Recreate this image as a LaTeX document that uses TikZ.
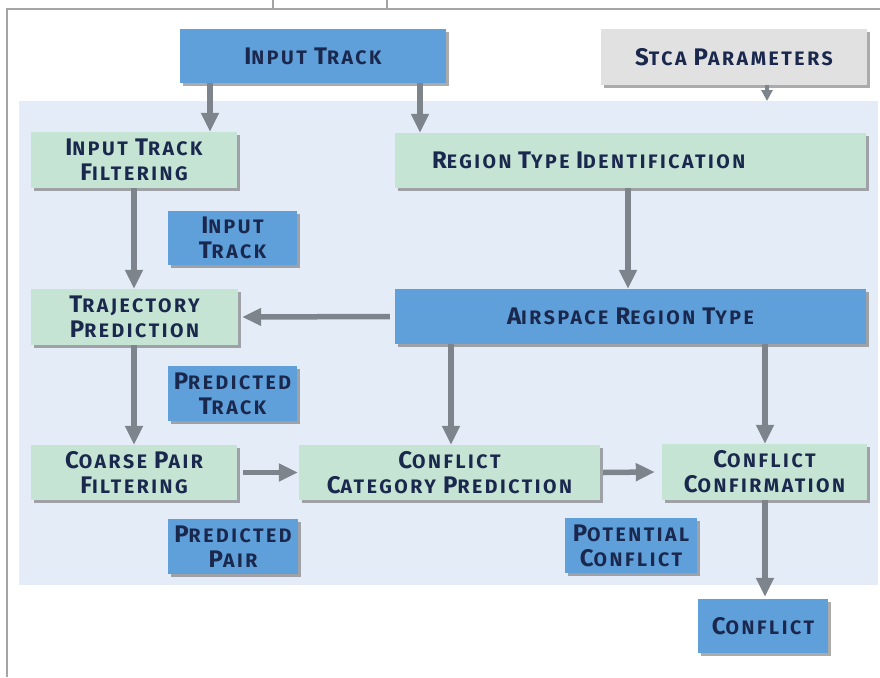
\documentclass[tikz,border=0pt]{standalone}
\usepackage{fontspec}
\setmainfont{Fira Sans}[LetterSpace=13]
\usetikzlibrary{arrows.meta,shadows,calc}
\definecolor{bgblue}{RGB}{228,237,247}
\definecolor{boxblue}{RGB}{96,160,218}
\definecolor{boxgreen}{RGB}{197,228,211}
\definecolor{boxgray}{RGB}{225,225,225}
\definecolor{txt}{RGB}{27,40,78}
\definecolor{arrgray}{RGB}{125,132,140}
\definecolor{framegray}{RGB}{165,165,165}
\newcommand\B[1]{{\fontsize{24}{25}\selectfont #1}}
\tikzset{
  box/.style={rectangle, draw=none, inner sep=0pt, align=center, text=txt,
    font=\bfseries\fontsize{19.5}{25}\selectfont,
    drop shadow={shadow xshift=2.5pt, shadow yshift=-3pt, fill=black!60, opacity=.55}},
  bluebox/.style={box, fill=boxblue},
  greenbox/.style={box, fill=boxgreen},
  graybox/.style={box, fill=boxgray},
  arr/.style={draw=arrgray, line width=5.5pt, -{Triangle[length=19pt,width=17pt]}},
  arrsmall/.style={draw=arrgray, line width=3.5pt, -{Triangle[length=11pt,width=11pt]}},
  framel/.style={draw=framegray, line width=1.8pt}
}
\begin{document}
\begin{tikzpicture}[x=1pt,y=-1pt]
\useasboundingbox (0,0) rectangle (880,677);
% frame
\draw[framel] (7,677) -- (7,9) -- (880,9);
\draw[framel] (273,0) -- (273,9);
\draw[framel] (387,0) -- (387,9);
% background
\node[fill=bgblue, inner sep=0pt, minimum width=859pt, minimum height=484pt, anchor=north west] (bg) at (19,101) {};
% boxes
\node[bluebox, minimum width=266pt, minimum height=54pt] (intrack) at (313,56) {\B{I}NPUT \B{T}RACK};
\node[graybox, minimum width=266pt, minimum height=55pt] (stca) at (734,57) {\B{S}TCA \B{P}ARAMETERS};
\node[greenbox, minimum width=206pt, minimum height=56pt] (itf) at (134,160) {\B{I}NPUT \B{T}RACK\\\B{F}ILTERING};
\node[greenbox, minimum width=471pt, minimum height=55pt, text width=397pt, inner xsep=37pt, align=left] (rti) at (630.5,160.5) {\B{R}EGION \B{T}YPE \B{I}DENTIFICATION};
\node[bluebox, minimum width=129pt, minimum height=54pt] (in2) at (232.5,238) {\B{I}NPUT\\\B{T}RACK};
\node[greenbox, minimum width=207pt, minimum height=56pt] (tp) at (134.5,317) {\B{T}RAJECTORY\\\B{P}REDICTION};
\node[bluebox, minimum width=471pt, minimum height=55pt] (art) at (630.5,316.5) {\B{A}IRSPACE \B{R}EGION \B{T}YPE};
\node[bluebox, minimum width=129pt, minimum height=55pt] (pt) at (232.5,393.5) {\B{P}REDICTED\\\B{T}RACK};
\node[greenbox, minimum width=206pt, minimum height=55pt] (cpf) at (134,472.5) {\B{C}OARSE \B{P}AIR\\\B{F}ILTERING};
\node[greenbox, minimum width=301pt, minimum height=55pt] (ccp) at (449.5,472.5) {\B{C}ONFLICT\\\B{C}ATEGORY \B{P}REDICTION};
\node[greenbox, minimum width=205pt, minimum height=56pt] (cc) at (764.5,472) {\B{C}ONFLICT\\\B{C}ONFIRMATION};
\node[bluebox, minimum width=130pt, minimum height=55pt] (pp) at (233,546.5) {\B{P}REDICTED\\\B{P}AIR};
\node[bluebox, minimum width=132pt, minimum height=55pt] (pc) at (631,545.5) {\B{P}OTENTIAL\\\B{C}ONFLICT};
\node[bluebox, minimum width=130pt, minimum height=54pt] (conf) at (763,626) {\B{C}ONFLICT};
% arrow x positions
\coordinate (xa) at (210,0);
\coordinate (xb) at (420,0);
\coordinate (xc) at (767,0);
\coordinate (xd) at (134,0);
\coordinate (xe) at (628,0);
\coordinate (xf) at (451,0);
\coordinate (xg) at (765,0);
% arrows
\draw[arr] (intrack.south -| xa) -- (itf.north -| xa);
\draw[arr] (intrack.south -| xb) -- (rti.north -| xb);
\draw[arrsmall] (stca.south -| xc) -- (bg.north -| xc);
\draw[arr] (itf.south -| xd) -- (tp.north -| xd);
\draw[arr] (rti.south -| xe) -- (art.north -| xe);
\draw[arr] ([xshift=-5pt]art.west) -- ([xshift=4pt]tp.east);
\draw[arr] (tp.south -| xd) -- (cpf.north -| xd);
\draw[arr] (art.south -| xf) -- (ccp.north -| xf);
\draw[arr] (art.south -| xg) -- (cc.north -| xg);
\draw[arr] ([xshift=6pt]cpf.east) -- ([xshift=-1pt]ccp.west);
\draw[arr] ([xshift=3pt]ccp.east) -- ([xshift=-7pt]cc.west);
\draw[arr] (cc.south -| xg) -- ([yshift=2pt]conf.north -| xg);
\end{tikzpicture}
\end{document}
